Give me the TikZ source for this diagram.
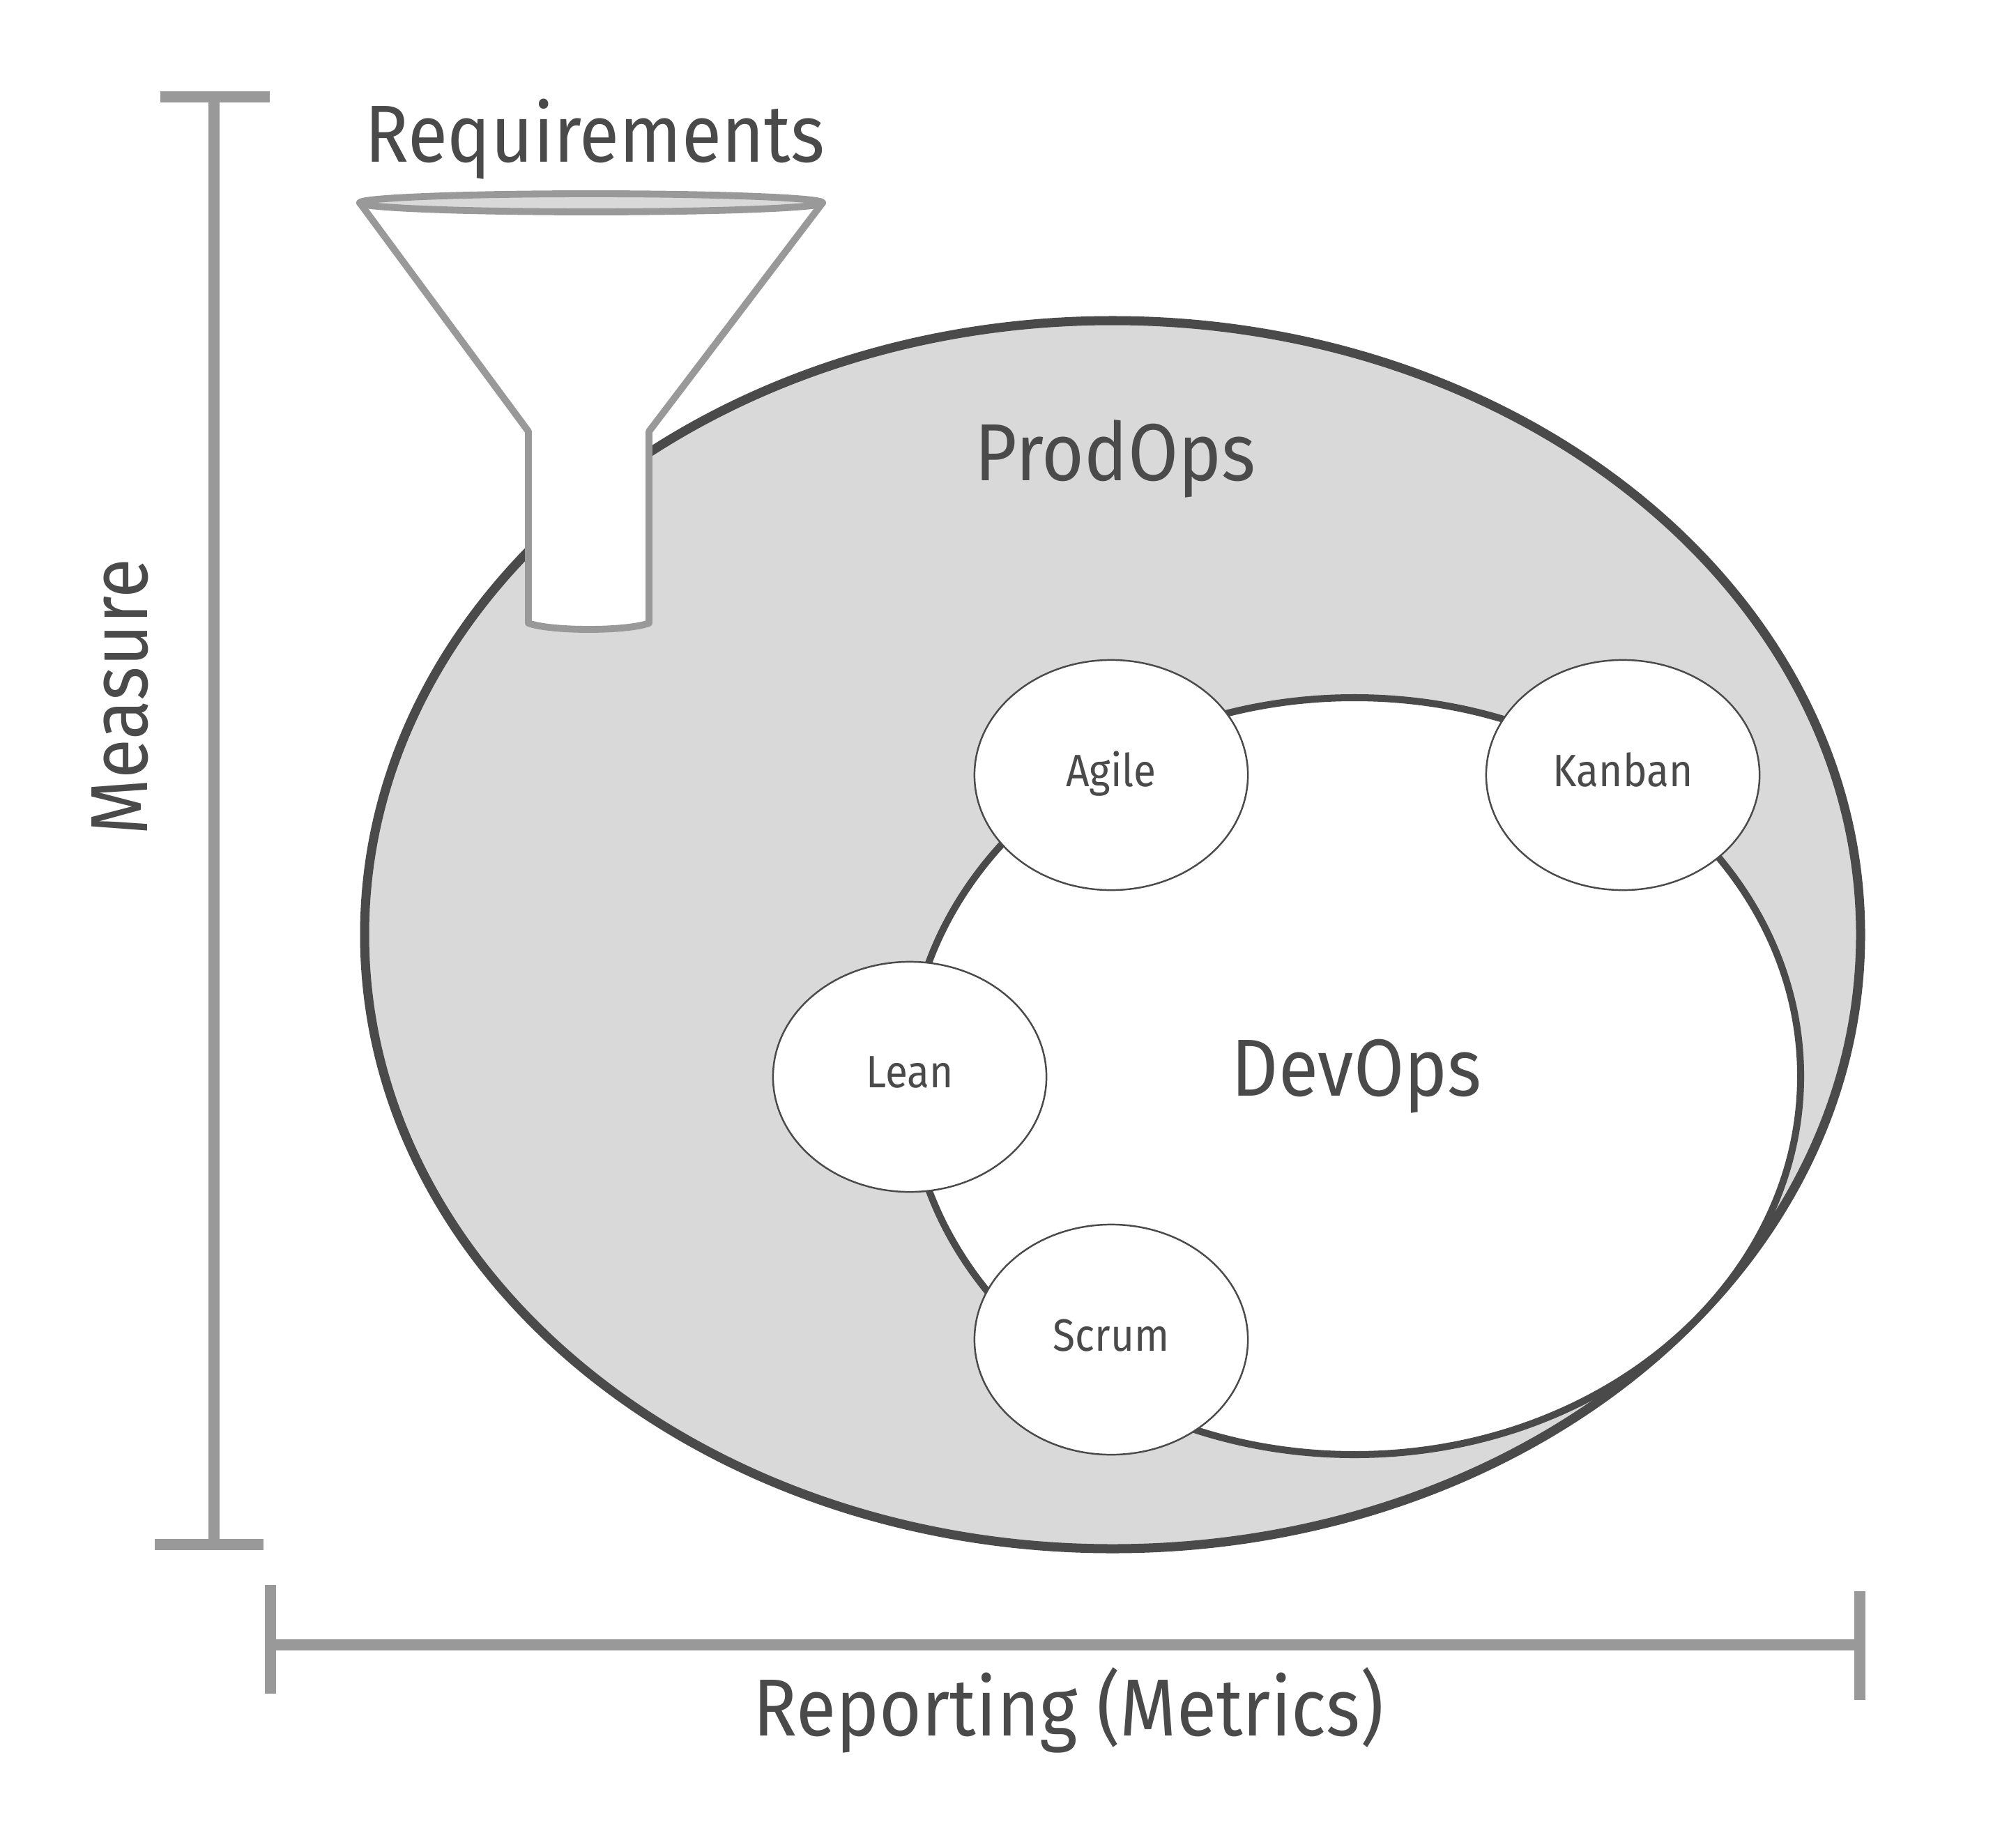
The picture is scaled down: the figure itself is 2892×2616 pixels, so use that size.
\documentclass[tikz,border=0pt]{standalone}
\usepackage{fontspec}
\setmainfont{Fira Sans}[FakeStretch=0.9]
\usetikzlibrary{shapes.geometric}
\definecolor{ink}{HTML}{4A4A4A}
\definecolor{rule}{HTML}{999999}
\definecolor{shade}{HTML}{D9D9D9}
\tikzset{
  scalebar/.style={rule, line width=4.3pt},
  funnel/.style={rule, line width=2.8pt, line join=round},
  bigtext/.style={text=ink, inner sep=0pt, anchor=base, font=\fontsize{33}{33}\selectfont},
  smalltext/.style={text=ink, inner sep=0pt, anchor=base, font=\fontsize{18.5}{18.5}\selectfont},
  method/.style={ellipse, draw=ink, line width=0.7pt, fill=white, inner sep=0pt,
    minimum width=3.92cm, minimum height=3.3cm},
}
\begin{document}
\begin{tikzpicture}[x=0.01cm,y=-0.01cm]
\useasboundingbox (0,0) rectangle (2892,2616);
%scale bars
\draw[scalebar] (230,139) -- (387,139);
\draw[scalebar] (307,139) -- (307,2216);
\draw[scalebar] (222,2216) -- (378,2216);
\draw[scalebar] (388,2274) -- (388,2430);
\draw[scalebar] (388,2360) -- (2668,2360);
\draw[scalebar] (2668,2283) -- (2668,2439);
%ellipses
\draw[ink, fill=shade, line width=3.7pt] (1596,1341) ellipse [x radius=1073, y radius=881];
\draw[ink, fill=white, line width=2.85pt] (1943,1544) ellipse [x radius=640, y radius=543];
\node[method] (agile) at (1594,1112) {};
\node[method] (kanban) at (2328,1112) {};
\node[method] (lean) at (1305,1545) {};
\node[method] (scrum) at (1594,1922) {};
%funnel
\draw[funnel, fill=white] (516,291) -- (758,619) -- (758,894)
  .. controls (790,906) and (899,906) .. (931,894) -- (931,619) -- (1180,291) -- cycle;
\draw[funnel, fill=shade] (848,291) ellipse [x radius=332, y radius=13];
%labels
\node[bigtext] (req) at (853,233) {Requirements};
\node[bigtext] (prodops) at (1600,690) {ProdOps};
\node[bigtext] (devops) at (1946,1572) {DevOps};
\node[bigtext] (reporting) at (1533,2490) {Reporting (Metrics)};
\node[bigtext, rotate=90] (measure) at (211,1000) {Measure};
\node[smalltext] (agiletext) at (1594,1128) {Agile};
\node[smalltext] (kanbantext) at (2328,1128) {Kanban};
\node[smalltext] (leantext) at (1305,1560) {Lean};
\node[smalltext] (scrumtext) at (1594,1938) {Scrum};
\end{tikzpicture}
\end{document}
